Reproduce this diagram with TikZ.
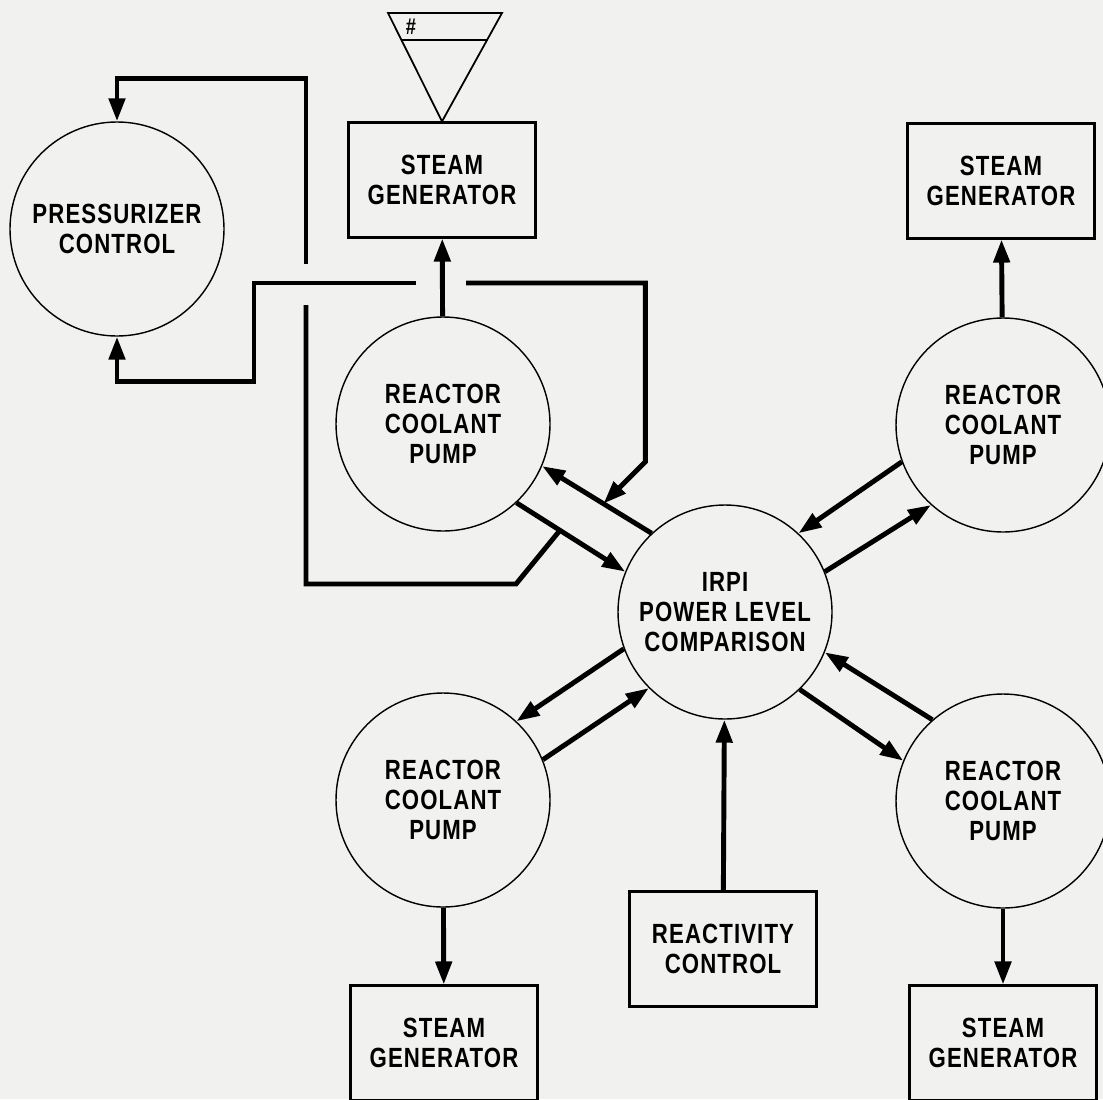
\documentclass[tikz,border=0pt]{standalone}
\usepackage{fontspec}
\setmainfont{Liberation Sans}[FakeStretch=0.8,LetterSpace=4]
\usepackage{tikz}
\usetikzlibrary{arrows.meta,calc}
\definecolor{paper}{RGB}{241,241,239}
\tikzstyle{txt} = [align=center, font={\bfseries\fontsize{7.9}{8.5}\selectfont}]
\tikzstyle{pump} = [txt, draw=black, line width=0.4pt, circle, minimum size=21.4mm, inner sep=0pt]
\tikzstyle{unit} = [txt, draw=black, line width=0.6pt, rectangle, minimum width=18.7mm, minimum height=11.5mm, inner sep=0pt]
\tikzstyle{wire} = [line width=1.4pt]
\tikzstyle{sig} = [wire, -{Triangle[length=2.3mm,width=1.6mm]}]

\begin{document}
\begin{tikzpicture}[x=0.1mm,y=-0.1mm]
    \fill[paper](0,0) rectangle (1103,1099);
    \useasboundingbox (0,0) rectangle (1103,1099);
    % circles
    \node[pump](pzr) at (117,229){PRESSURIZER\\CONTROL};
    \node[pump](p1) at (443,424){REACTOR\\COOLANT\\PUMP};
    \node[pump](p2) at (1003,425){REACTOR\\COOLANT\\PUMP};
    \node[pump](p3) at (443,800){REACTOR\\COOLANT\\PUMP};
    \node[pump](p4) at (1003,801){REACTOR\\COOLANT\\PUMP};
    \node[pump](irpi) at (725,612){IRPI\\POWER LEVEL\\COMPARISON};
    % boxes
    \node[unit](sg1) at (442,180){STEAM\\GENERATOR};
    \node[unit](sg2) at (1001,181){STEAM\\GENERATOR};
    \node[unit](sg3) at (444,1043){STEAM\\GENERATOR};
    \node[unit](sg4) at (1003,1043){STEAM\\GENERATOR};
    \node[unit](rc) at (723,949){REACTIVITY\\CONTROL};
    % level mark
    \draw[line width=0.5pt](388,13)--(502,13)--(sg1.north)--cycle;
    \draw[line width=0.5pt](401,40)--(488,40);
    \node[font={\bfseries\fontsize{6.5}{6.5}\selectfont}, inner sep=0pt](lvl) at (411,27){\#};
    % pumps to steam generators
    \draw[sig](p1)--(sg1);
    \draw[sig](p2)--(sg2);
    \draw[sig](p3)--(sg3);
    \draw[sig](p4)--(sg4);
    \draw[sig](rc)--(irpi);
    % pumps and comparison
    \draw[sig](irpi.133)--(p1.-23);
    \draw[sig](p1.-47)--(irpi.158);
    \draw[sig](p2.200)--(irpi.47);
    \draw[sig](irpi.22)--(p2.228);
    \draw[sig](irpi.200)--(p3.47);
    \draw[sig](p3.22)--(irpi.225);
    \draw[sig](p4.131)--(irpi.-22);
    \draw[sig](irpi.-46)--(p4.158);
    % pressurizer loops
    \coordinate(ja) at ($(p1.-47)!0.4!(irpi.158)$);
    \coordinate(jb) at ($(irpi.133)!0.44!(p1.-23)$);
    \draw[wire](ja)--(516,584)--(306,584)--(306,305);
    \draw[sig](306,264)|-($(pzr.north)+(0,-43)$)--(pzr.north);
    \draw[sig](416,283)--(254,283)|-($(pzr.south)+(0,45)$)--(pzr.south);
    \draw[sig](466,283)-|($(jb)+(42,-42)$)--(jb);
  \end{tikzpicture}
\end{document}
